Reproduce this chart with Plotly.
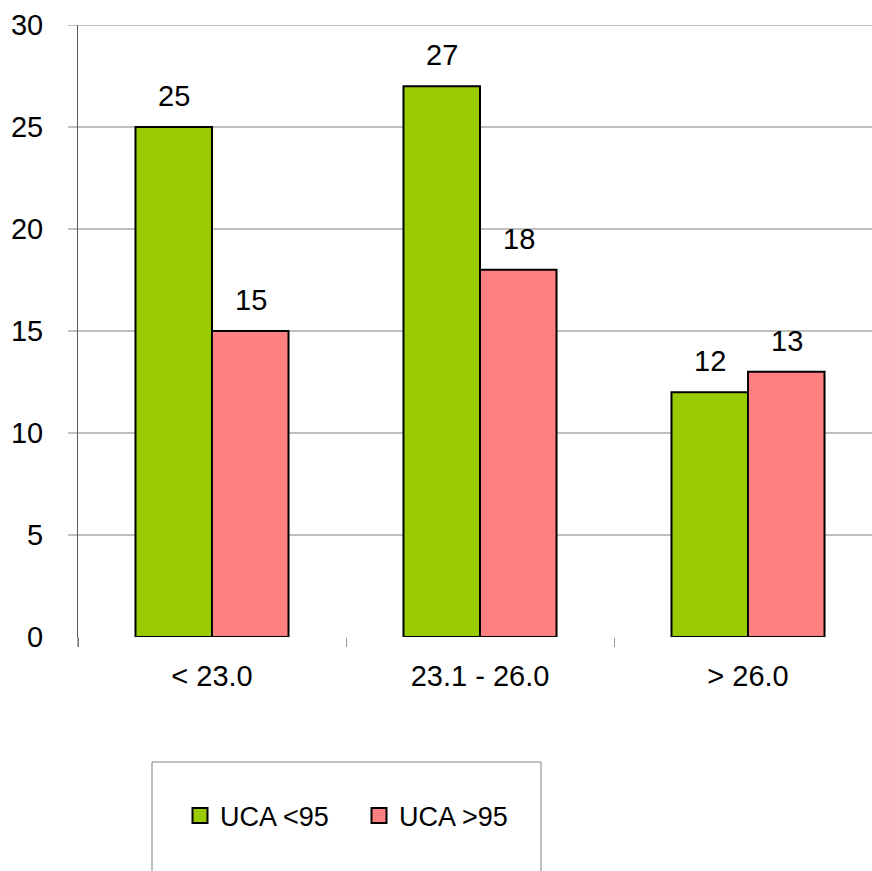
import plotly.graph_objects as go

# Data
categories = ["< 23.0", "23.1 - 26.0", "> 26.0"]
series_names = ["UCA <95", "UCA >95"]
uca_below_95 = [25, 27, 12]
uca_above_95 = [15, 18, 13]
y_ticks = [0, 5, 10, 15, 20, 25, 30]

colors = ["#99CC00", "#FF8080"]
FONT = "Liberation Sans, Arial, sans-serif"
FS = 29

W, H = 872, 871
ML, MR, MT, MB = 78, 0, 25, 234
plot_w = W - ML - MR
plot_h = H - MT - MB

fig = go.Figure()

for name, vals, col in zip(series_names, [uca_below_95, uca_above_95], colors):
    fig.add_trace(go.Bar(
        x=categories, y=vals, name=name,
        marker=dict(color=col, line=dict(color="black", width=2)),
        showlegend=False,
    ))
    # legend entries with larger square swatches
    fig.add_trace(go.Scatter(
        x=[None], y=[None], mode="markers", name=name,
        marker=dict(symbol="square", size=15, color=col,
                    line=dict(color="black", width=2)),
    ))

# value labels above bars
annotations = []
for i, vals in enumerate([uca_below_95, uca_above_95]):
    for j, v in enumerate(vals):
        annotations.append(dict(
            x=j, y=v, xref="x", yref="y", text=str(v), showarrow=False,
            xanchor="center", yanchor="bottom", yshift=13,
            xshift=(-38.5 if i == 0 else 38.5),
            font=dict(family=FONT, size=FS, color="black"),
        ))

shapes = []
# horizontal gridlines, running through the tick area left of the axis
for t in y_ticks[1:]:
    shapes.append(dict(type="line", xref="paper", yref="y",
                       x0=-10 / plot_w, x1=1, y0=t, y1=t, layer="below",
                       line=dict(color="#808080", width=1)))
# downward extension of the vertical axis line below zero
shapes.append(dict(type="line", xref="paper", yref="paper",
                   x0=0, x1=0, y0=0, y1=-10 / plot_h,
                   line=dict(color="#595959", width=1)))
# legend frame
px = lambda v: (v - ML) / plot_w
py = lambda v: (H - MB - v) / plot_h
shapes.append(dict(type="rect", xref="paper", yref="paper",
                   x0=px(152), x1=px(541), y0=py(762), y1=py(885),
                   line=dict(color="#808080", width=1), fillcolor="rgba(0,0,0,0)"))

cat_w = 268.0
x_span = plot_w / cat_w

fig.update_layout(
    width=W, height=H,
    margin=dict(l=ML, r=MR, t=MT, b=MB, pad=0),
    paper_bgcolor="white", plot_bgcolor="white",
    barmode="group", bargap=0.429, bargroupgap=0,
    font=dict(family=FONT, size=FS, color="black"),
    annotations=annotations,
    shapes=shapes,
    legend=dict(
        orientation="h", x=px(180), y=py(816), xanchor="left", yanchor="middle",
        bgcolor="rgba(0,0,0,0)", borderwidth=0,
        font=dict(family=FONT, size=27, color="black"),
        entrywidth=134, entrywidthmode="pixels",
        itemwidth=30,
    ),
    xaxis=dict(
        type="category", range=[-0.5, -0.5 + x_span],
        showgrid=False, showline=False, zeroline=False,
        ticks="outside", tickson="boundaries", ticklen=9, tickwidth=1,
        tickcolor="#999999",
        tickfont=dict(family=FONT, size=FS, color="black"),
        ticklabelstandoff=19,
    ),
    yaxis=dict(
        range=[0, 30], tickvals=y_ticks,
        showgrid=False,
        showline=True, linecolor="#595959", linewidth=1,
        zeroline=False, ticks="",
        tickfont=dict(family=FONT, size=FS, color="black"),
        ticklabelstandoff=28,
    ),
)

fig.write_html("out.html")
